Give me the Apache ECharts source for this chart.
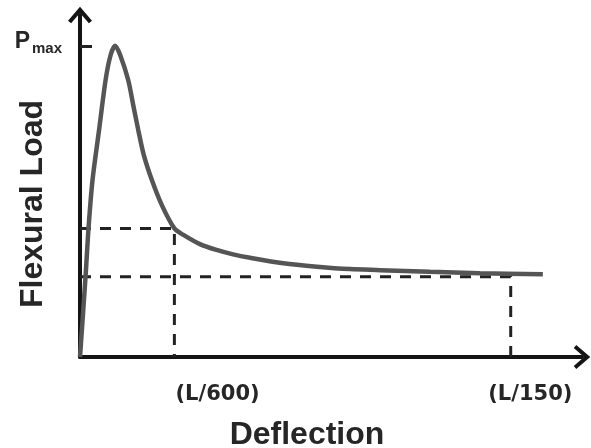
<!DOCTYPE html>
<html>
<head>
<meta charset="utf-8">
<script src="https://cdn.jsdelivr.net/npm/echarts@6/dist/echarts.min.js"></script>
<style>
  html, body { margin: 0; padding: 0; background: #fff; }
  #chart { width: 591px; height: 448px; }
</style>
</head>
<body>
<div id="chart"></div>
<script>
// Load–deflection curve of a fibre-reinforced beam (arbitrary units)
const deflection = [0, 0.11, 0.17, 0.25, 0.38, 0.51, 0.61, 0.70, 0.80, 0.96, 1.06, 1.16, 1.27,
  1.43, 1.63, 1.88, 2.06, 2.39, 2.72, 3.05, 3.39, 4.05, 4.72, 5.38, 5.98, 6.97, 7.97, 9.22];
const load = [0, 2.34, 3.77, 5.18, 6.64, 8.10, 8.83, 9.10, 8.83, 8.10, 7.37, 6.64, 5.91,
  5.18, 4.44, 3.76, 3.57, 3.30, 3.13, 3.00, 2.90, 2.74, 2.64, 2.57, 2.54, 2.49, 2.45, 2.42];

// Residual-load guides at the two serviceability deflections
const guideDeflection = [1.88, 8.58];
const guideLoad = [3.76, 2.35];

// Deflection tick labels and where they sit along the axis
const xTickLabels = ['(L/600)', '(L/150)'];
const xTickAt = [2.74, 8.97];

const pMax = Math.max(...load);
const curve = deflection.map((d, i) => [d, load[i]]);

const AXIS_COLOR = '#141414';
const arrowPath = 'path://M12,0 L24,14 L20.9,16.5 L12,6.2 L3.1,16.5 L0,14 Z';

const guides = guideDeflection.map((d, i) => ({
  type: 'line',
  data: [[0, guideLoad[i]], [d, guideLoad[i]], [d, 0]],
  showSymbol: false,
  silent: true,
  z: 2,
  lineStyle: { color: '#222', width: 3, type: [11, 9] }
}));

const chart = echarts.init(document.getElementById('chart'));
chart.setOption({
  backgroundColor: '#fff',
  animation: false,
  grid: { left: 80, right: 9, top: 15, bottom: 91, containLabel: false, outerBoundsMode: 'none' },
  xAxis: {
    type: 'value', min: 0, max: 10,
    name: 'Deflection',
    nameLocation: 'middle',
    nameGap: 62,
    nameMoveOverlap: false,
    nameTextStyle: {
      fontFamily: 'Liberation Sans', fontWeight: 'bold', fontSize: 32,
      color: '#262626', padding: [0, 48, 0, 0]
    },
    axisLine: {
      lineStyle: { color: AXIS_COLOR, width: 4, cap: 'round' },
      symbol: ['none', arrowPath], symbolSize: [24, 16.5]
    },
    axisTick: { show: false },
    splitLine: { show: false },
    axisLabel: {
      customValues: xTickAt,
      margin: 27,
      fontFamily: 'DejaVu Sans', fontWeight: 'bold', fontSize: 21, color: '#262626',
      formatter: v => xTickLabels[xTickAt.indexOf(v)] || ''
    }
  },
  yAxis: {
    type: 'value', min: 0, max: 10,
    name: 'Flexural Load',
    nameLocation: 'middle',
    nameRotate: 90,
    nameGap: 31,
    nameMoveOverlap: false,
    nameTextStyle: {
      fontFamily: 'Liberation Sans', fontWeight: 'bold', fontSize: 32,
      color: '#262626', padding: [0, 36, 0, 0]
    },
    axisLine: {
      lineStyle: { color: AXIS_COLOR, width: 4, cap: 'round' },
      symbol: ['none', arrowPath], symbolSize: [24, 16.5]
    },
    axisTick: {
      customValues: [pMax], inside: true, length: 12,
      lineStyle: { color: '#222', width: 3 }
    },
    splitLine: { show: false },
    axisLabel: {
      customValues: [pMax],
      margin: 18,
      formatter: () => '{p|P}{s|max}',
      rich: {
        p: { fontFamily: 'Liberation Sans', fontWeight: 'bold', fontSize: 23, color: '#262626', padding: [0, 0, 9, 0] },
        s: { fontFamily: 'Liberation Sans', fontWeight: 'bold', fontSize: 15, color: '#262626', padding: [6, 0, 0, 2] }
      }
    }
  },
  series: [
    ...guides,
    {
      type: 'line',
      data: curve,
      showSymbol: false,
      smooth: 0.3,
      z: 3,
      lineStyle: { color: '#555', width: 4.5 }
    }
  ]
});
</script>
</body>
</html>
